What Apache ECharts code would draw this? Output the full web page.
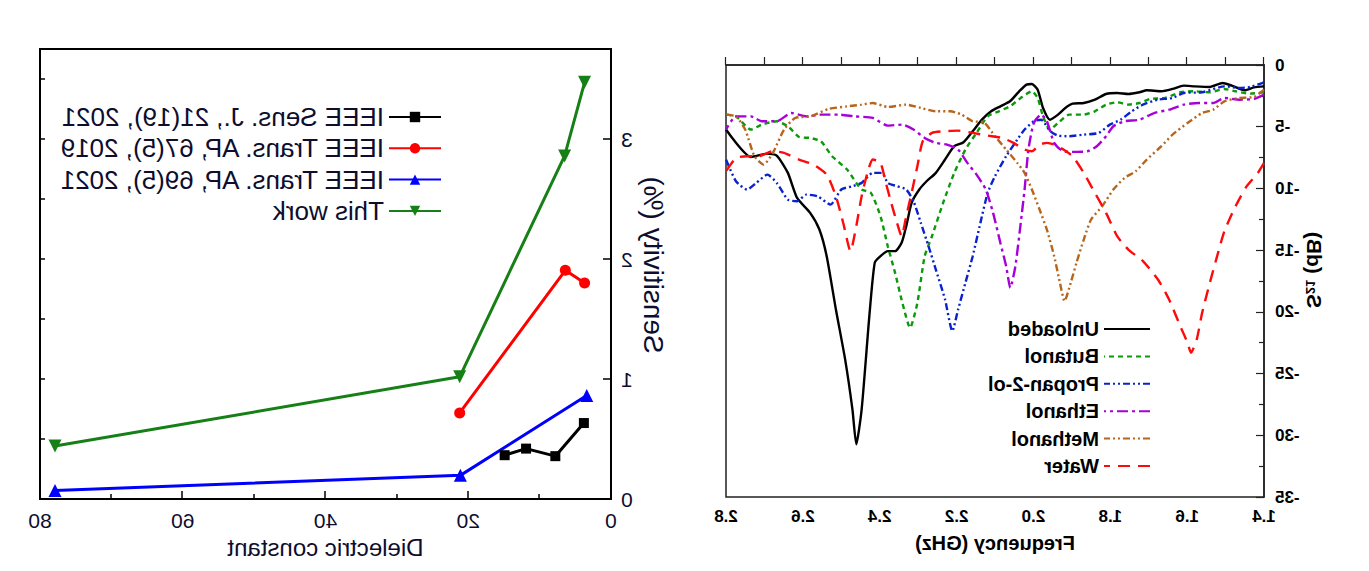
<!DOCTYPE html>
<html>
<head>
<meta charset="utf-8">
<script src="https://cdn.jsdelivr.net/npm/echarts@6/dist/echarts.min.js"></script>
<style>
html,body{margin:0;padding:0;background:#fff;}
#wrap{width:1369px;height:571px;transform:scaleX(-1);transform-origin:center;}
#chart{width:1369px;height:571px;}
</style>
</head>
<body>
<div id="wrap"><div id="chart"></div></div>
<script>
// ---------- |S21| vs frequency panel ----------
const freqTicks = [1.4, 1.6, 1.8, 2.0, 2.2, 2.4, 2.6, 2.8];
const s21Names = ['Unloaded', 'Butanol', 'Propan-2-ol', 'Ethanol', 'Methanol', 'Water'];

const unloaded = [[1.400,-1.73],[1.426,-1.81],[1.450,-2.05],[1.484,-1.67],[1.508,-1.46],[1.541,-1.78],[1.580,-1.73],[1.609,-1.67],[1.638,-1.94],[1.667,-2.13],[1.705,-2.05],[1.724,-2.21],[1.753,-2.35],[1.782,-2.27],[1.811,-2.35],[1.840,-2.81],[1.869,-3.08],[1.898,-3.13],[1.917,-3.48],[1.936,-4.02],[1.957,-4.43],[1.975,-3.48],[1.989,-2.00],[2.004,-1.54],[2.018,-1.59],[2.037,-2.13],[2.061,-2.94],[2.086,-3.35],[2.110,-3.75],[2.134,-4.43],[2.158,-5.37],[2.182,-6.26],[2.206,-6.58],[2.230,-7.66],[2.254,-8.74],[2.278,-9.42],[2.297,-10.09],[2.317,-11.17],[2.331,-13.06],[2.343,-14.41],[2.360,-15.08],[2.379,-15.08],[2.398,-15.49],[2.413,-16.03],[2.427,-20.35],[2.447,-27.90],[2.461,-30.73],[2.471,-27.90],[2.490,-23.85],[2.514,-19.81],[2.538,-15.49],[2.557,-13.33],[2.581,-11.98],[2.615,-10.77],[2.639,-8.74],[2.668,-7.34],[2.692,-7.18],[2.735,-7.45],[2.800,-5.23]];

const butanol = [[1.400,-2.21],[1.436,-2.32],[1.474,-2.13],[1.503,-1.94],[1.541,-2.21],[1.580,-2.13],[1.618,-2.21],[1.657,-2.67],[1.696,-2.75],[1.724,-3.08],[1.753,-3.21],[1.782,-3.02],[1.811,-3.21],[1.840,-3.75],[1.869,-4.02],[1.907,-4.02],[1.936,-4.70],[1.957,-5.23],[1.975,-4.16],[1.989,-2.67],[2.004,-2.13],[2.033,-2.67],[2.061,-3.35],[2.090,-3.75],[2.119,-4.16],[2.148,-5.50],[2.177,-6.85],[2.206,-8.74],[2.235,-11.17],[2.264,-13.87],[2.283,-15.49],[2.302,-19.27],[2.321,-21.29],[2.341,-19.27],[2.360,-16.84],[2.379,-14.68],[2.398,-12.25],[2.423,-10.36],[2.447,-10.09],[2.461,-9.55],[2.485,-8.47],[2.524,-7.39],[2.553,-6.18],[2.581,-5.91],[2.610,-5.83],[2.639,-4.96],[2.668,-4.56],[2.707,-4.83],[2.735,-5.23],[2.774,-4.16],[2.800,-4.02]];

const propanol = [[1.400,-1.40],[1.436,-1.78],[1.464,-1.86],[1.503,-1.73],[1.561,-2.21],[1.609,-2.27],[1.638,-2.67],[1.676,-2.81],[1.715,-3.21],[1.744,-3.75],[1.773,-4.43],[1.801,-4.83],[1.830,-5.50],[1.869,-5.64],[1.907,-5.77],[1.936,-5.72],[1.956,-5.37],[1.980,-4.43],[1.999,-4.56],[2.023,-5.23],[2.042,-6.04],[2.071,-7.39],[2.100,-9.01],[2.119,-10.36],[2.138,-12.79],[2.158,-15.49],[2.177,-17.65],[2.196,-19.81],[2.211,-21.56],[2.230,-19.00],[2.254,-16.57],[2.273,-14.68],[2.293,-12.79],[2.312,-11.04],[2.331,-10.09],[2.355,-9.82],[2.379,-9.55],[2.394,-8.74],[2.418,-8.74],[2.447,-9.55],[2.471,-9.82],[2.500,-10.09],[2.528,-11.31],[2.562,-10.63],[2.591,-10.50],[2.615,-11.04],[2.639,-10.90],[2.668,-9.55],[2.692,-8.88],[2.721,-9.55],[2.745,-10.09],[2.774,-9.42],[2.800,-7.66]];

const ethanol = [[1.400,-2.40],[1.426,-2.75],[1.464,-2.81],[1.503,-2.67],[1.532,-3.08],[1.570,-3.08],[1.609,-3.21],[1.647,-3.62],[1.686,-3.89],[1.724,-4.43],[1.763,-4.56],[1.792,-4.96],[1.811,-5.77],[1.835,-6.58],[1.859,-6.99],[1.888,-7.04],[1.922,-6.99],[1.946,-6.31],[1.965,-4.56],[1.980,-4.02],[1.999,-4.70],[2.013,-6.85],[2.023,-10.09],[2.033,-12.79],[2.047,-16.30],[2.060,-18.05],[2.071,-16.30],[2.086,-14.41],[2.105,-11.98],[2.124,-10.09],[2.148,-8.88],[2.172,-7.93],[2.196,-6.85],[2.225,-6.45],[2.254,-6.31],[2.283,-5.91],[2.312,-5.23],[2.341,-4.83],[2.379,-4.91],[2.418,-4.29],[2.466,-4.16],[2.504,-4.02],[2.553,-4.02],[2.591,-4.16],[2.630,-3.89],[2.668,-4.56],[2.707,-4.56],[2.735,-4.16],[2.774,-4.16],[2.800,-5.23]];

const methanol = [[1.400,-2.00],[1.426,-2.59],[1.464,-2.67],[1.503,-2.94],[1.532,-3.62],[1.561,-3.89],[1.599,-4.70],[1.638,-5.64],[1.667,-6.58],[1.705,-7.66],[1.734,-8.61],[1.763,-9.15],[1.792,-10.09],[1.821,-11.44],[1.850,-12.52],[1.869,-14.14],[1.888,-16.03],[1.903,-17.65],[1.919,-19.13],[1.931,-17.65],[1.946,-15.49],[1.965,-13.33],[1.984,-11.71],[2.004,-10.09],[2.023,-8.74],[2.042,-7.93],[2.071,-6.85],[2.100,-5.77],[2.129,-4.64],[2.158,-4.56],[2.187,-4.02],[2.216,-3.75],[2.254,-3.75],[2.293,-3.48],[2.331,-3.21],[2.379,-3.40],[2.418,-3.08],[2.447,-3.21],[2.485,-3.35],[2.533,-3.56],[2.581,-4.16],[2.620,-4.29],[2.649,-5.23],[2.678,-7.12],[2.702,-8.07],[2.726,-7.39],[2.750,-5.23],[2.774,-4.16],[2.800,-4.02]];

const water = [[1.400,-7.93],[1.416,-8.74],[1.445,-9.82],[1.474,-11.44],[1.503,-13.46],[1.522,-15.49],[1.541,-17.65],[1.561,-20.08],[1.575,-22.23],[1.590,-23.31],[1.599,-22.50],[1.618,-21.15],[1.647,-19.00],[1.676,-17.38],[1.715,-15.89],[1.753,-14.95],[1.782,-13.87],[1.811,-11.98],[1.840,-10.36],[1.869,-8.74],[1.898,-7.39],[1.922,-6.85],[1.946,-6.45],[1.965,-6.31],[1.984,-6.45],[2.004,-6.99],[2.023,-6.85],[2.052,-6.31],[2.081,-5.91],[2.119,-5.72],[2.158,-5.50],[2.196,-5.32],[2.235,-5.37],[2.264,-5.50],[2.288,-6.18],[2.302,-8.20],[2.317,-10.36],[2.331,-12.25],[2.343,-13.87],[2.355,-12.79],[2.370,-11.17],[2.384,-9.55],[2.398,-7.93],[2.418,-7.66],[2.432,-8.74],[2.447,-10.63],[2.461,-13.06],[2.476,-15.08],[2.495,-12.79],[2.514,-10.63],[2.538,-8.88],[2.572,-8.07],[2.610,-7.66],[2.649,-7.12],[2.678,-6.99],[2.716,-7.39],[2.745,-7.39],[2.774,-7.53],[2.800,-8.61]];

// ---------- Sensitivity vs dielectric constant panel ----------
const refNames = ['IEEE Sens. J., 21(19), 2021', 'IEEE Trans. AP, 67(5), 2019', 'IEEE Trans. AP, 69(5), 2021', 'This work'];
const sensJ = [[14.9,0.365],[11.9,0.42],[7.8,0.357],[3.8,0.633]];
const transAP2019 = [[21.2,0.717],[6.4,1.906],[3.7,1.80]];
const transAP2021 = [[77.9,0.07],[21.1,0.197],[3.4,0.863]];
const thisWork = [[77.9,0.441],[21.2,1.018],[6.5,2.859],[3.7,3.472]];

const FONT = 'Liberation Sans, Arial, sans-serif';
const navy = '#0d0d2e';

const s21Styles = [
  {color:'#000000', type:'solid'},
  {color:'#0a9a0a', type:[5,4]},
  {color:'#0a22cc', type:[7,3,2,3,2,3]},
  {color:'#a800d8', type:[11,4,3,4]},
  {color:'#b8651c', type:[7,3,2,3,2,3]},
  {color:'#ff0a0a', type:[12,8]}
];
const s21Data = [unloaded, butanol, propanol, ethanol, methanol, water];

const series = [];
s21Data.forEach((d, i) => {
  series.push({
    name: s21Names[i], type: 'line', xAxisIndex: 0, yAxisIndex: 0,
    data: d, symbol: 'none', smooth: 0.2,
    lineStyle: {color: s21Styles[i].color, type: s21Styles[i].type, width: 2.4},
    itemStyle: {color: s21Styles[i].color}
  });
});

const refStyles = [
  {color:'#000000', symbol:'rect', size:10, rot:0},
  {color:'#ff0000', symbol:'circle', size:11, rot:0},
  {color:'#0000ff', symbol:'triangle', size:13, rot:0},
  {color:'#168016', symbol:'triangle', size:13, rot:180}
];
[sensJ, transAP2019, transAP2021, thisWork].forEach((d, i) => {
  series.push({
    name: refNames[i], type: 'line', xAxisIndex: 1, yAxisIndex: 1,
    data: d, symbol: refStyles[i].symbol, symbolSize: refStyles[i].size,
    symbolRotate: refStyles[i].rot, showSymbol: true,
    lineStyle: {color: refStyles[i].color, width: 3},
    itemStyle: {color: refStyles[i].color}
  });
});

const chart = echarts.init(document.getElementById('chart'), null, {renderer: 'svg'});
chart.setOption({
  animation: false,
  backgroundColor: '#ffffff',
  grid: [
    {left: 105, top: 65, width: 538, height: 432, show: true, borderColor: '#222', borderWidth: 1.5, backgroundColor: 'transparent'},
    {left: 758, top: 49, width: 571, height: 450, show: true, borderColor: '#000', borderWidth: 2, backgroundColor: 'transparent'}
  ],
  xAxis: [
    {gridIndex: 0, type: 'value', min: 1.4, max: 2.8, interval: 0.2,
     axisLine: {show: true, lineStyle: {color: '#222', width: 1.5}},
     axisTick: {inside: true, length: 8, lineStyle: {color: '#222', width: 1.2}},
     minorTick: {show: true, splitNumber: 2, length: 8, lineStyle: {color: '#222', width: 1.2}},
     splitLine: {show: false},
     axisLabel: {margin: 11, color: '#000', fontFamily: FONT, fontWeight: 'bold', fontSize: 17,
                 formatter: v => v.toFixed(1)},
     name: 'Frequency (GHz)', nameLocation: 'middle', nameGap: 36,
     nameTextStyle: {color: '#000', fontFamily: FONT, fontWeight: 'bold', fontSize: 20}},
    {gridIndex: 1, type: 'value', min: 0, max: 80, interval: 20,
     axisLine: {show: true, lineStyle: {color: '#000', width: 2}},
     axisTick: {inside: true, length: 8, lineStyle: {color: '#000', width: 1.5}},
     minorTick: {show: true, splitNumber: 2, length: 5, lineStyle: {color: '#000', width: 1.5}},
     splitLine: {show: false},
     axisLabel: {margin: 11, color: navy, fontFamily: FONT, fontSize: 21},
     name: 'Dielectric constant', nameLocation: 'middle', nameGap: 34,
     nameTextStyle: {color: navy, fontFamily: FONT, fontSize: 24}}
  ],
  yAxis: [
    {gridIndex: 0, type: 'value', min: -35, max: 0, interval: 5,
     axisLine: {show: true, lineStyle: {color: '#222', width: 1.5}},
     axisTick: {inside: true, length: 8, lineStyle: {color: '#222', width: 1.2}},
     minorTick: {show: true, splitNumber: 2, length: 5, lineStyle: {color: '#222', width: 1.2}},
     splitLine: {show: false},
     axisLabel: {margin: 11, color: '#000', fontFamily: FONT, fontWeight: 'bold', fontSize: 17},
     name: 'S{sub|21} (dB)', nameLocation: 'middle', nameGap: 40,
     nameTextStyle: {color: '#000', fontFamily: FONT, fontWeight: 'bold', fontSize: 21, padding: [0, 0, 0, 22],
                     rich: {sub: {fontSize: 13, fontWeight: 'bold', fontFamily: FONT, color: '#000', verticalAlign: 'bottom', padding: [8,0,0,0]}}}},
    {gridIndex: 1, type: 'value', min: 0, max: 3.75, interval: 1,
     axisLine: {show: true, lineStyle: {color: '#000', width: 2}},
     axisTick: {inside: true, length: 8, lineStyle: {color: '#000', width: 1.5}},
     splitLine: {show: false},
     axisLabel: {margin: 10, color: navy, fontFamily: FONT, fontSize: 21,
                 formatter: v => (Math.abs(v - Math.round(v)) < 1e-6 ? String(Math.round(v)) : '')},
     name: 'Sensitivity (%)', nameLocation: 'middle', nameGap: 28,
     nameTextStyle: {color: navy, fontFamily: FONT, fontSize: 28, padding: [0, 0, 0, 18]}},
    {gridIndex: 1, type: 'value', min: 0, max: 3.75, interval: 0.5,
     axisLine: {show: false},
     axisTick: {inside: true, length: 5, lineStyle: {color: '#000', width: 1.5}},
     splitLine: {show: false},
     axisLabel: {show: false}}
  ],
  legend: [
    {data: s21Names, orient: 'vertical', left: 218, top: 318, padding: 0,
     itemWidth: 46, itemHeight: 14, itemGap: 5.4,
     itemStyle: {opacity: 0, borderWidth: 0},
     textStyle: {color: '#000', fontFamily: FONT, fontWeight: 'bold', fontSize: 20, lineHeight: 22}},
    {data: refNames, orient: 'vertical', left: 927, top: 103, padding: 0,
     itemWidth: 52, itemHeight: 13, itemGap: 3.3,
     textStyle: {color: navy, fontFamily: FONT, fontSize: 26, lineHeight: 28}}
  ],
  series: series
});
</script>
</body>
</html>
